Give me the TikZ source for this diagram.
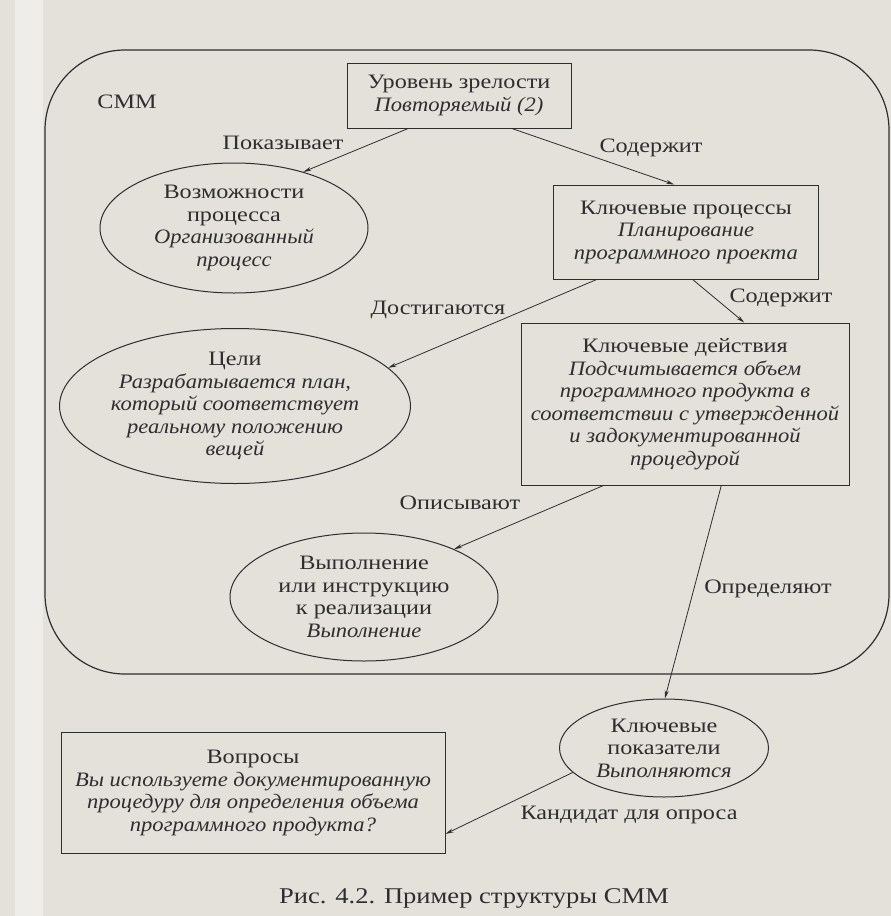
\documentclass[tikz,border=0pt]{standalone}
\usepackage{fontspec}
\setmainfont{Liberation Serif}[FakeStretch=1.18, ItalicFeatures={FakeStretch=1.1}]
\usetikzlibrary{shapes.geometric,arrows.meta}
\definecolor{paper}{HTML}{E4E0DA}
\definecolor{strip}{HTML}{EFEDEA}
\definecolor{ink}{HTML}{2E2E2E}
\tikzset{
  every node/.style={text=ink, font=\fontsize{20.5}{22.5}\selectfont},
  boxnode/.style={draw=ink, line width=1pt, rectangle, align=center, inner sep=2pt},
  ellnode/.style={draw=ink, line width=1pt, ellipse, align=center, inner sep=0pt},
  lbl/.style={inner sep=1pt},
  conn/.style={draw=ink, line width=0.8pt, -{Stealth[length=8pt,width=4pt]}},
}
\begin{document}
\begin{tikzpicture}[x=1pt,y=-1pt]
\fill[paper] (0,0) rectangle (891,916);
\fill[strip] (15,0) rectangle (43,916);
\useasboundingbox (0,0) rectangle (891,916);
% frame
\draw[ink, line width=1.2pt, rounded corners=80pt] (45,50) rectangle (889,674);
\node (cmm) at (127,102) {СММ};
% nodes
\node[boxnode, minimum width=224pt, minimum height=65pt] (lvl) at (459,95.5)
  {Уровень зрелости\\\textit{Повторяемый (2)}};
\node[ellnode, minimum width=268pt, minimum height=130pt] (cap) at (234,228)
  {Возможности\\процесса\\\textit{Организованный}\\\textit{процесс}};
\node[boxnode, minimum width=265pt, minimum height=94pt] (kp) at (686,232)
  {Ключевые процессы\\\textit{Планирование}\\\textit{программного проекта}};
\node[ellnode, minimum width=324pt, minimum height=155pt] (goals) at (235,406)
  {Цели\\\textit{Разрабатывается план,}\\\textit{который соответствует}\\\textit{реальному положению}\\\textit{вещей}};
\node[boxnode, minimum width=328pt, minimum height=162pt] (ka) at (685,404)
  {Ключевые действия\\\textit{Подсчитывается объем}\\\textit{программного продукта в}\\\textit{соответствии с утвержденной}\\\textit{и задокументированной}\\\textit{процедурой}};
\node[ellnode, minimum width=268pt, minimum height=128pt] (impl) at (364,597)
  {Выполнение\\или инструкцию\\к реализации\\\textit{Выполнение}};
\node[ellnode, minimum width=209pt, minimum height=98pt] (ki) at (664,748)
  {Ключевые\\показатели\\\textit{Выполняются}};
\node[boxnode, minimum width=384pt, minimum height=121pt] (q) at (253,793)
  {Вопросы\\\textit{Вы используете документированную}\\\textit{процедуру для определения объема}\\\textit{программного продукта?}};
\node[font=\fontsize{22.5}{26}\selectfont] (caption) at (474,898) {Рис. 4.2. Пример структуры СММ};
% labels
\node[lbl] (l1) at (283,143) {Показывает};
\node[lbl] (l2) at (651,148) {Содержит};
\node[lbl] (l3) at (438,310) {Достигаются};
\node[lbl] (l4) at (781,298) {Содержит};
\node[lbl] (l5) at (460,503) {Описывают};
\node[lbl] (l6) at (768,589) {Определяют};
\node[lbl] (l7) at (629,815) {Кандидат для опроса};
% connectors
\draw[conn] (lvl.213.6) -- (cap.39);
\draw[conn] (lvl.328) -- (kp.104.3);
\draw[conn] (kp.208.6) -- (goals.14);
\draw[conn] (kp.278.3) -- (ka.54.4);
\draw[conn] (ka.225) -- (impl.28.6);
\draw[conn] (ka.294) -- (ki.89);
\draw[conn] (ki.195) -- (q.348);
\end{tikzpicture}
\end{document}
